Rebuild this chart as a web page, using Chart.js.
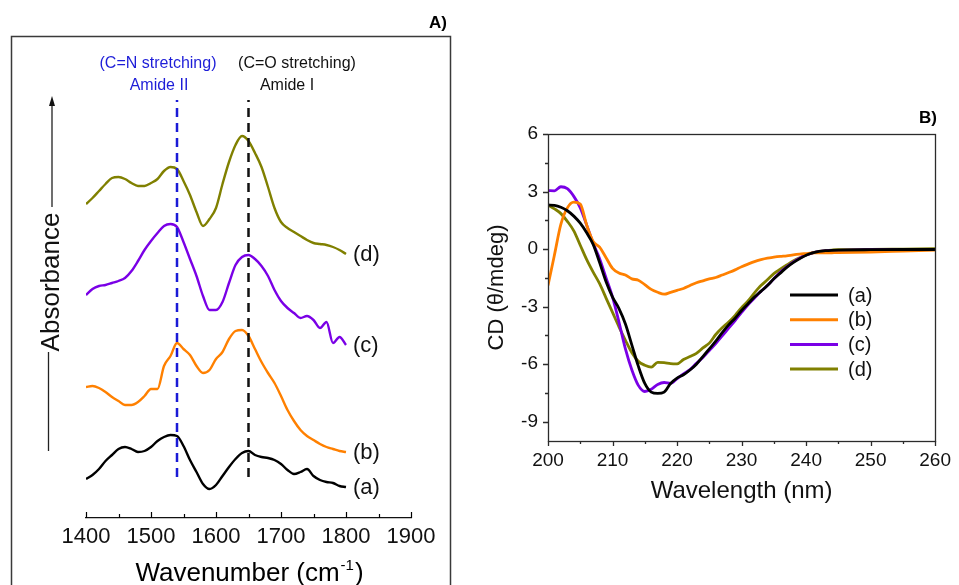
<!DOCTYPE html>
<html>
<head>
<meta charset="utf-8">
<script src="https://cdn.jsdelivr.net/npm/chart.js@4.4.0/dist/chart.umd.min.js"></script>
<style>
  html, body { margin: 0; padding: 0; background: #fff; }
  #wrap { position: relative; width: 959px; height: 585px; overflow: hidden; }
  canvas { position: absolute; top: 0; }
  #ftir { left: 0; }
  #cd { left: 460px; }
</style>
</head>
<body>
<div id="wrap">
  <canvas id="ftir" width="460" height="585"></canvas>
  <canvas id="cd" width="499" height="585"></canvas>
</div>
<script>
// PANEL A - FTIR (stacked, arbitrary absorbance offset)
// ---------------------------------------------------
const wavenumber = [1400, 1410, 1420, 1430, 1440, 1450, 1460, 1470, 1480, 1490,
    1500, 1510, 1520, 1530, 1540, 1550, 1560, 1570, 1580, 1590,
    1600, 1610, 1620, 1630, 1640, 1650, 1660, 1670, 1680, 1690,
    1700, 1710, 1720, 1730, 1740, 1750, 1760, 1770, 1780, 1790, 1800];
const absA = [39, 43, 49, 57, 63, 69, 71, 69, 66, 67, 71, 77, 81, 83, 82, 72, 58, 46, 34, 29,
    33, 42, 51, 59, 65, 67, 63, 61, 60, 58, 54, 48, 44, 46, 49, 42, 38, 36, 35, 32, 31];
const absB = [131, 132, 130, 126, 121, 117, 113, 113, 116, 122, 129, 129, 152, 162, 175, 169, 163, 152, 145, 148,
    159, 166, 179, 187, 188, 182, 169, 156, 145, 135, 122, 108, 97, 88, 82, 78, 74, 71, 69, 67, 66];
const absC = [223, 229, 232, 233, 235, 237, 240, 247, 257, 268, 277, 285, 292, 294, 291, 276, 259, 242, 222, 208,
    208, 216, 235, 253, 261, 263, 259, 252, 242, 228, 217, 210, 205, 200, 202, 198, 190, 196, 175, 181, 173];
const absD = [314, 320, 327, 334, 340, 341, 339, 335, 332, 332, 335, 339, 347, 351, 349, 337, 323, 306, 292, 299,
    310, 334, 356, 373, 382, 377, 365, 351, 331, 310, 296, 290, 286, 282, 278, 275, 274, 273, 271, 268, 264];
const amideII = 1540;
const amideI = 1650;
const markerSpan = [41, 418];
const ftirTicks = [1400, 1500, 1600, 1700, 1800, 1900];
const ftirMinor = [1450, 1550, 1650, 1750, 1850];

// PANEL B - CD spectra
// ---------------------------------------------------
const wavelength = [200, 201, 202, 203, 204, 205, 206, 207, 208, 209,
    210, 211, 212, 213, 214, 215, 216, 217, 218, 219,
    220, 221, 222, 223, 224, 225, 226, 227, 228, 229,
    230, 231, 232, 233, 234, 235, 236, 237, 238, 239,
    240, 241, 242, 243, 244, 245, 250, 255, 260];
const cdA = [2.30, 2.28, 2.18, 2.00, 1.72, 1.35, 0.85, 0.25, -0.70, -1.70,
    -2.50, -3.10, -3.90, -5.00, -6.10, -7.00, -7.45, -7.52, -7.45, -7.00,
    -6.72, -6.55, -6.30, -6.00, -5.60, -5.20, -4.80, -4.35, -3.95, -3.60,
    -3.20, -2.85, -2.50, -2.20, -1.90, -1.55, -1.25, -0.95, -0.70, -0.50,
    -0.32, -0.20, -0.12, -0.08, -0.06, -0.05, -0.03, -0.02, -0.02];
const cdB = [-1.90, -0.30, 1.30, 2.15, 2.45, 2.35, 1.25, 0.40, 0.10, -0.45,
    -1.00, -1.25, -1.35, -1.55, -1.62, -1.85, -2.10, -2.25, -2.35, -2.25,
    -2.15, -2.05, -1.90, -1.75, -1.65, -1.55, -1.48, -1.35, -1.22, -1.08,
    -0.92, -0.78, -0.65, -0.55, -0.47, -0.42, -0.38, -0.35, -0.30, -0.26,
    -0.23, -0.20, -0.20, -0.20, -0.19, -0.18, -0.15, -0.10, -0.05];
const cdC = [3.05, 3.04, 3.25, 3.15, 2.75, 2.15, 1.25, 0.30, -0.50, -1.50,
    -2.50, -3.80, -5.20, -6.30, -7.10, -7.42, -7.30, -7.05, -6.95, -7.00,
    -6.75, -6.50, -6.28, -5.95, -5.65, -5.28, -4.92, -4.52, -4.12, -3.72,
    -3.30, -2.90, -2.55, -2.20, -1.90, -1.55, -1.20, -0.92, -0.68, -0.47,
    -0.30, -0.20, -0.13, -0.09, -0.07, -0.06, -0.03, -0.02, -0.02];
const cdD = [2.30, 2.10, 1.85, 1.45, 0.95, 0.20, -0.55, -1.20, -1.80, -2.55,
    -3.30, -4.05, -4.75, -5.40, -5.85, -6.05, -6.15, -5.90, -5.92, -5.97,
    -5.98, -5.75, -5.60, -5.43, -5.15, -4.90, -4.45, -4.10, -3.80, -3.45,
    -3.05, -2.70, -2.28, -1.90, -1.60, -1.28, -1.05, -0.83, -0.62, -0.45,
    -0.30, -0.20, -0.12, -0.08, -0.05, -0.03, -0.02, 0.00, 0.02];
const cdXTicks = [200, 210, 220, 230, 240, 250, 260];
const cdXMinor = [205, 215, 225, 235, 245, 255];
const cdYTicks = [-9, -6, -3, 0, 3, 6];
const cdYMinor = [-7.5, -4.5, -1.5, 1.5, 4.5];

const seriesLabels = ['(a)', '(b)', '(c)', '(d)'];
const seriesColors = ['#000000', '#ff8000', '#7a00e6', '#808000'];

const FONT = 'Arial, "Liberation Sans", sans-serif';

function pairs(xs, ys) {
    return xs.map((x, i) => ({ x: x, y: ys[i] }));
}

// tick marks drawn by hand (major / minor, in or out)
function tickMarks(ctx, scale, values, len, dir) {
    const area = scale.chart.chartArea;
    ctx.beginPath();
    values.forEach(v => {
        const p = Math.round(scale.getPixelForValue(v)) + 0.5;
        if (scale.isHorizontal()) {
            ctx.moveTo(p, area.bottom);
            ctx.lineTo(p, area.bottom + len * dir);
        } else {
            ctx.moveTo(area.left, p);
            ctx.lineTo(area.left - len * dir, p);
        }
    });
    ctx.stroke();
}

// PANEL A DECORATION
// ---------------------------------------------------
const ftirDecor = {
    id: 'ftirDecor',
    afterDraw(chart) {
        const ctx = chart.ctx;
        const xs = chart.scales.x;
        const area = chart.chartArea;
        ctx.save();

        // outer frame
        ctx.strokeStyle = '#3a3a3a';
        ctx.lineWidth = 1.5;
        ctx.strokeRect(11.5, 36.5, 439, 600);

        // inward ticks
        ctx.strokeStyle = '#000';
        ctx.lineWidth = 1.2;
        tickMarks(ctx, xs, ftirTicks, 6, -1);
        tickMarks(ctx, xs, ftirMinor, 4, -1);

        // axis title with superscript
        ctx.fillStyle = '#000';
        ctx.textBaseline = 'alphabetic';
        ctx.textAlign = 'left';
        const big = '26px ' + FONT;
        const small = '15px ' + FONT;
        ctx.font = big;
        const w1 = ctx.measureText('Wavenumber (cm').width;
        const w3 = ctx.measureText(')').width;
        ctx.font = small;
        const w2 = ctx.measureText('-1').width;
        const cx = (area.left + area.right) / 2;
        let x0 = cx - (w1 + w2 + w3) / 2;
        const base = 581;
        ctx.font = big;
        ctx.fillText('Wavenumber (cm', x0, base);
        ctx.font = small;
        ctx.fillText('-1', x0 + w1 + 1, base - 11);
        ctx.font = big;
        ctx.fillText(')', x0 + w1 + w2 + 2, base);

        // panel letter
        ctx.font = 'bold 17px ' + FONT;
        ctx.textAlign = 'right';
        ctx.textBaseline = 'middle';
        ctx.fillText('A)', 447, 23);

        // band annotations
        ctx.font = '16px ' + FONT;
        ctx.textAlign = 'center';
        ctx.fillStyle = '#1d1dd8';
        ctx.fillText('(C=N stretching)', 158, 64);
        ctx.fillText('Amide II', 159, 86);
        ctx.fillStyle = '#111';
        ctx.fillText('(C=O stretching)', 297, 64);
        ctx.fillText('Amide I', 287, 86);

        // absorbance arrow
        ctx.strokeStyle = '#222';
        ctx.lineWidth = 1.3;
        ctx.beginPath();
        ctx.moveTo(52, 104);
        ctx.lineTo(52, 207);
        ctx.moveTo(48.5, 352);
        ctx.lineTo(48.5, 451);
        ctx.stroke();
        ctx.fillStyle = '#111';
        ctx.beginPath();
        ctx.moveTo(52, 96);
        ctx.lineTo(49, 106);
        ctx.lineTo(55, 106);
        ctx.closePath();
        ctx.fill();
        ctx.save();
        ctx.translate(59, 282);
        ctx.rotate(-Math.PI / 2);
        ctx.font = '26px ' + FONT;
        ctx.textAlign = 'center';
        ctx.textBaseline = 'alphabetic';
        ctx.fillText('Absorbance', 0, 0);
        ctx.restore();

        // series tags at the end of each trace
        ctx.font = '22px ' + FONT;
        ctx.textAlign = 'left';
        ctx.textBaseline = 'middle';
        ctx.fillStyle = '#111';
        chart.data.datasets.forEach(ds => {
            if (!ds.tag) return;
            const last = ds.data[ds.data.length - 1];
            ctx.fillText(ds.tag, xs.getPixelForValue(last.x) + 7, chart.scales.y.getPixelForValue(last.y) + 1);
        });
        ctx.restore();
    }
};

// PANEL B DECORATION
// ---------------------------------------------------
const cdDecor = {
    id: 'cdDecor',
    afterDraw(chart) {
        const ctx = chart.ctx;
        const area = chart.chartArea;
        ctx.save();
        ctx.strokeStyle = '#2b2b2b';
        ctx.lineWidth = 1.3;
        ctx.strokeRect(Math.round(area.left) + 0.5, Math.round(area.top) + 0.5,
            Math.round(area.right - area.left), Math.round(area.bottom - area.top));
        tickMarks(ctx, chart.scales.x, cdXTicks, 5, 1);
        tickMarks(ctx, chart.scales.x, cdXMinor, 3, 1);
        tickMarks(ctx, chart.scales.y, cdYTicks, 5, 1);
        tickMarks(ctx, chart.scales.y, cdYMinor, 3, 1);

        // legend
        ctx.font = '20px ' + FONT;
        ctx.textAlign = 'left';
        ctx.textBaseline = 'middle';
        chart.data.datasets.forEach((ds, i) => {
            const y = 295 + i * 24.7;
            ctx.strokeStyle = ds.borderColor;
            ctx.lineWidth = 3;
            ctx.beginPath();
            ctx.moveTo(330, y);
            ctx.lineTo(378, y);
            ctx.stroke();
            ctx.fillStyle = '#111';
            ctx.fillText(ds.label, 388, y + 1);
        });

        ctx.font = 'bold 17px ' + FONT;
        ctx.textAlign = 'right';
        ctx.fillStyle = '#000';
        ctx.fillText('B)', 477, 118);
        ctx.restore();
    }
};

// FTIR CHART
// ---------------------------------------------------
const ftirSeries = [absA, absB, absC, absD];
const ftirSets = ftirSeries.map((vals, i) => ({
    label: seriesLabels[i],
    tag: seriesLabels[i],
    data: pairs(wavenumber, vals),
    borderColor: seriesColors[i],
    borderWidth: 2.4,
    cubicInterpolationMode: 'monotone',
    pointRadius: 0,
    order: 2
}));
ftirSets.push({
    label: 'Amide II',
    data: [{ x: amideII, y: markerSpan[0] }, { x: amideII, y: markerSpan[1] }],
    borderColor: '#1a1ad6',
    borderWidth: 2.5,
    borderDash: [9, 6],
    pointRadius: 0,
    order: 1
});
ftirSets.push({
    label: 'Amide I',
    data: [{ x: amideI, y: markerSpan[0] }, { x: amideI, y: markerSpan[1] }],
    borderColor: '#111',
    borderWidth: 2.5,
    borderDash: [9, 6],
    pointRadius: 0,
    order: 1
});

new Chart(document.getElementById('ftir'), {
    type: 'line',
    data: { datasets: ftirSets },
    options: {
        responsive: false,
        animation: false,
        devicePixelRatio: 1,
        layout: { padding: { left: 86, right: 49, top: 88, bottom: 0 } },
        plugins: { legend: { display: false }, tooltip: { enabled: false } },
        scales: {
            x: {
                type: 'linear',
                min: 1400,
                max: 1900,
                afterBuildTicks: s => { s.ticks = ftirTicks.map(v => ({ value: v })); },
                afterFit: s => { s.height = 67; },
                grid: { display: false, drawTicks: false },
                border: { display: true, color: '#111', width: 1.3 },
                ticks: {
                    autoSkip: false, maxRotation: 0, padding: 6,
                    color: '#111', font: { family: FONT, size: 22 },
                    callback: v => String(v)
                }
            },
            y: { type: 'linear', display: false, min: 0, max: 430 }
        }
    },
    plugins: [ftirDecor]
});

// CD CHART
// ---------------------------------------------------
const cdSeries = [cdA, cdB, cdC, cdD];
new Chart(document.getElementById('cd'), {
    type: 'line',
    data: {
        datasets: cdSeries.map((vals, i) => ({
            label: seriesLabels[i],
            data: pairs(wavelength, vals),
            borderColor: seriesColors[i],
            borderWidth: 2.8,
            cubicInterpolationMode: 'monotone',
            pointRadius: 0
        }))
    },
    options: {
        responsive: false,
        animation: false,
        devicePixelRatio: 1,
        layout: { padding: { left: 0, right: 19, top: 134, bottom: 0 } },
        plugins: { legend: { display: false }, tooltip: { enabled: false } },
        scales: {
            x: {
                type: 'linear',
                min: 200,
                max: 260,
                afterBuildTicks: s => { s.ticks = cdXTicks.map(v => ({ value: v })); },
                afterFit: s => { s.height = 144; },
                grid: { display: false, drawTicks: false },
                border: { display: false },
                ticks: {
                    autoSkip: false, maxRotation: 0, padding: 8,
                    color: '#111', font: { family: FONT, size: 19 },
                    callback: v => String(v)
                },
                title: {
                    display: true, text: 'Wavelength (nm)', color: '#111',
                    font: { family: FONT, size: 24 }, padding: { top: 0, bottom: 79 }
                }
            },
            y: {
                type: 'linear',
                min: -10,
                max: 6,
                afterBuildTicks: s => { s.ticks = cdYTicks.map(v => ({ value: v })); },
                afterFit: s => { s.width = 88; },
                grid: { display: false, drawTicks: false },
                border: { display: false },
                ticks: {
                    padding: 10, color: '#111', font: { family: FONT, size: 19 },
                    callback: v => String(v)
                },
                title: {
                    display: true, text: 'CD (\u03b8/mdeg)', color: '#111',
                    font: { family: FONT, size: 22 }, padding: { top: 24, bottom: 0 }
                }
            }
        }
    },
    plugins: [cdDecor]
});
</script>
</body>
</html>
